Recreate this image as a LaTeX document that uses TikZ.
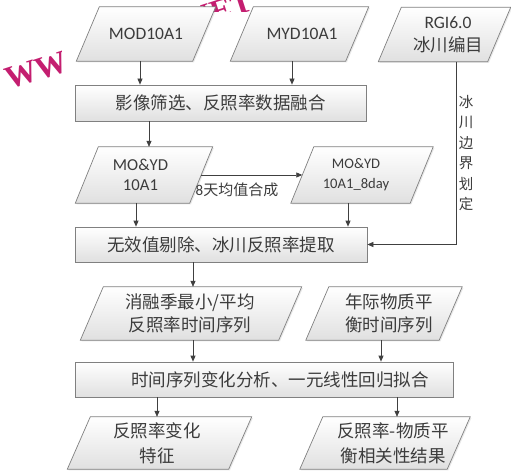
\documentclass[tikz,border=0pt]{standalone}
\usepackage{fontspec}
\setmainfont{Carlito}
\newfontfamily\cjk{Noto Sans CJK SC}
\newfontfamily\wmfont{Liberation Serif}
\usetikzlibrary{arrows.meta,shadows,calc}
\pgfdeclarelayer{wm}
\pgfdeclarelayer{bg}
\pgfsetlayers{wm,bg,main}
\definecolor{txt}{RGB}{60,60,60}
\definecolor{edge}{RGB}{128,128,128}
\definecolor{fillb}{RGB}{224,224,224}
\definecolor{arr}{RGB}{64,64,64}
\definecolor{wmc}{RGB}{196,30,112}
\tikzset{
  boxfill/.style={draw=edge, line width=0.7pt, top color=white, bottom color=fillb,
    drop shadow={opacity=0.18, shadow xshift=1.2pt, shadow yshift=-1.2pt}},
  rbox/.style={boxfill, rectangle, inner sep=0pt, text=txt,
    font=\cjk\fontsize{17.5}{23}\selectfont},
  ptext/.style={rectangle, inner sep=0pt, text=txt, align=center},
  conn/.style={draw=arr, line width=0.7pt, -{Triangle[length=6pt,width=5pt]}},
  wmark/.style={text=wmc, font=\wmfont\bfseries\fontsize{32}{32}\selectfont,
    anchor=base west, rotate=18, inner sep=0pt},
  vlabel/.style={text=txt, align=center, inner sep=0pt,
    font=\cjk\fontsize{14.5}{20.5}\selectfont},
  elabel/.style={text=txt, inner sep=0pt, font=\fontsize{15}{18}\selectfont},
}
% #1 name, #2 text centre, #3 side length, #4 height, #5 shape offset, #6 font, #7 text
\newcommand\paral[7]{%
  \node[ptext, minimum width=#3, minimum height=#4, font=#6] (#1) at (#2) {#7};
  \begin{pgfonlayer}{bg}
    \path[boxfill] ([xshift=#5+11.5pt]#1.north west) -- ([xshift=#5+11.5pt]#1.north east)
      -- ([xshift=#5-11.5pt]#1.south east) -- ([xshift=#5-11.5pt]#1.south west) -- cycle;
  \end{pgfonlayer}}
\begin{document}
\begin{tikzpicture}[x=1pt,y=-1pt]
\useasboundingbox (0,0) rectangle (511,473);
\begin{pgfonlayer}{wm}
  \fill[white] (0,0) rectangle (511,473);
  \node[wmark] (wmk) at (9,90) {WWW.CNKI.NET};
  \fill[white] (62,12) rectangle (511,473);
\end{pgfonlayer}

\paral{mod}{146,34}{116pt}{54pt}{0pt}{\fontsize{17.5}{23}\selectfont}{MOD10A1}
\paral{myd}{302,34}{115pt}{54pt}{-2.5pt}{\fontsize{17.5}{23}\selectfont}{MYD10A1}
\paral{rgi}{448,34.5}{109pt}{54pt}{-3.5pt}{\fontsize{17.5}{23}\selectfont}{RGI6.0\\{\cjk 冰川编目}}

\node[rbox, minimum width=291pt, minimum height=36pt] (fuse) at (220.5,103) {影像筛选、反照率数据融合};

\paral{mo}{140.5,175}{114pt}{56pt}{3.5pt}{\fontsize{16.7}{20}\selectfont}{MO\&YD\\10A1}
\paral{mo8}{356,175}{119pt}{56pt}{6pt}{\fontsize{14.6}{20}\selectfont}{MO\&YD\\10A1\_8day}
\node[elabel] (lbl) at (237,190) {8{\cjk 天均值合成}};

\node[rbox, minimum width=292pt, minimum height=35pt] (clean) at (221,244.5) {无效值剔除、冰川反照率提取};
\node[vlabel] (bnd) at (466,153) {冰\\川\\边\\界\\划\\定};

\paral{melt}{190,313.5}{198pt}{53pt}{1pt}{\cjk\fontsize{17.5}{23}\selectfont}{消融季最小/平均\\反照率时间序列}
\paral{mb}{389,313.5}{133pt}{53pt}{-5pt}{\cjk\fontsize{17.5}{23}\selectfont}{年际物质平\\衡时间序列}

\node[rbox, minimum width=378pt, minimum height=35pt] (ana) at (264,379.5) {\hspace*{32pt}时间序列变化分析、一元线性回归拟合};

\paral{res1}{157,443}{161pt}{52pt}{2.5pt}{\cjk\fontsize{17.5}{25}\selectfont}{反照率变化\\特征}
\paral{res2}{393,443}{147pt}{52pt}{-8pt}{\cjk\fontsize{17.5}{25}\selectfont}{反照率-物质平\\衡相关性结果}

\draw[conn] ([xshift=-6pt]mod.south) -- ([xshift=-6pt]mod.south |- fuse.north);
\draw[conn] ([xshift=-10pt]myd.south) -- ([xshift=-10pt]myd.south |- fuse.north);
\draw[conn] ([xshift=8.5pt]mo.north |- fuse.south) -- ([xshift=8.5pt]mo.north);
\draw[conn] ([xshift=3.5pt]mo.east) -- ([xshift=6pt]mo8.west);
\draw[conn] ([xshift=-4.5pt]mo.south) -- ([xshift=-4.5pt]mo.south |- clean.north);
\draw[conn] ([xshift=-8pt]mo8.south) -- ([xshift=-8pt]mo8.south |- clean.north);
\draw[conn] ([xshift=8pt]rgi.south) |- (clean.east);
\draw[conn] ([xshift=3pt]melt.north |- clean.south) -- ([xshift=3pt]melt.north);
\draw[conn] ([xshift=3pt]melt.south) -- ([xshift=3pt]melt.south |- ana.north);
\draw[conn] ([xshift=-8pt]mb.south) -- ([xshift=-8pt]mb.south |- ana.north);
\draw[conn] (res1.north |- ana.south) -- (res1.north);
\draw[conn] ([xshift=4pt]res2.north |- ana.south) -- ([xshift=4pt]res2.north);
\end{tikzpicture}
\end{document}
